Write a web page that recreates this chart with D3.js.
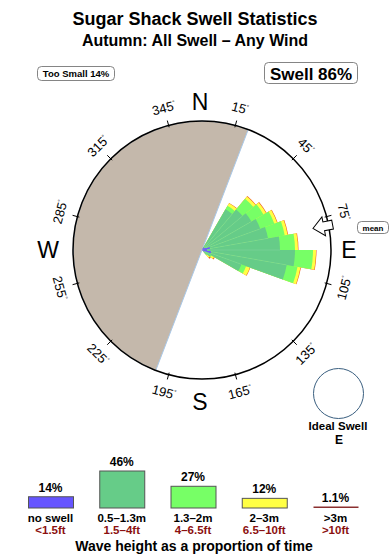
<!DOCTYPE html>
<html><head><meta charset="utf-8">
<script src="https://cdn.jsdelivr.net/npm/d3@7"></script>
<style>body{margin:0;background:#fff}svg{display:block}text{font-family:"Liberation Sans",Arial,sans-serif}</style>
</head><body><div id="c"></div>
<script>
// ---- data ----
const categories = ["no swell","0.5\u20131.3m","1.3\u20132m","2\u20133m",">3m"];
const ftLabels = ["<1.5ft","1.5\u20134ft","4\u20136.5ft","6.5\u201310ft",">10ft"];
const legendPct = [14,46,27,12,1.1];
const legendPctLabels = ["14%","46%","27%","12%","1.1%"];
const colors = ["#6655ff","#66cc88","#77ff66","#ffff44","#ee5522"];
const binStart = [30,40,50,60,70,80,90,100,110,120,130];
const binWidth = 10;
const noSwell = [3,3,3,4,8,5,5,9,3,2,1];
const small   = [44,50,54,58,59,73,88,77,39,8,5];
const medium  = [4,14,14,15,17,15,18,11,5,1,1];
const large   = [3,3,3,3,3,3,3,3,4,3,3];
const huge    = [0.4,0.5,0.5,0.5,0.5,0.5,0.5,0.5,0.5,0.8,1.5];
const degTicks = [15,45,75,105,135,165,195,225,255,285,315,345];
const compass = [["N",0],["E",90],["S",180],["W",270]];
const landFrom = 201, landTo = 381;
const meanDir = 79;
const swellPct = "Swell 86%", tooSmall = "Too Small 14%";

// ---- drawing ----
const W = 390, H = 560, cx = 202, cy = 250, R = 129;
const svg = d3.select("#c").append("svg").attr("width",W).attr("height",H);
const rad = d => d*Math.PI/180;
const r = d3.scaleLinear().domain([0,129]).range([0,R]);

svg.append("text").attr("x",195).attr("y",25).attr("text-anchor","middle")
  .attr("font-size",18).attr("font-weight","bold").text("Sugar Shack Swell Statistics");
svg.append("text").attr("x",195).attr("y",45.5).attr("text-anchor","middle")
  .attr("font-size",16).attr("font-weight","bold").text("Autumn: All Swell \u2013 Any Wind");

function box(x,y,w,h,txt,fs,tx,ty,fw){
  svg.append("rect").attr("x",x).attr("y",y).attr("width",w).attr("height",h).attr("rx",4)
    .attr("fill","#fff").attr("stroke","#666").attr("stroke-width",0.8);
  svg.append("text").attr("x",tx).attr("y",ty).attr("text-anchor","middle").attr("font-size",fs)
    .attr("font-weight",fw||"normal").text(txt);
}
box(37.5,66.5,77,14,tooSmall,9.5,76,77.2,"bold");
box(264.5,62.5,93,21,swellPct,17,311,79.5,"bold");
box(357.5,221.5,31,12,"mean",8,373,230.5,"bold");

const g = svg.append("g").attr("transform",`translate(${cx},${cy})`);
// land
g.append("path").attr("d",d3.arc()({innerRadius:0,outerRadius:R,startAngle:rad(landFrom),endAngle:rad(landTo)}))
  .attr("fill","#c4b8ab").attr("stroke","#a9c8e8").attr("stroke-width",1);

// rose
const rows = binStart.map((b,i)=>({b, "no swell":noSwell[i], [categories[1]]:small[i], [categories[2]]:medium[i], [categories[3]]:large[i], [categories[4]]:huge[i]}));
const stack = d3.stack().keys(categories)(rows);
const arc = d3.arc();
stack.slice().reverse().forEach((layer)=>{
  const ci = categories.indexOf(layer.key);
  g.append("g").selectAll("path").data(layer).join("path")
    .attr("d",d=>arc({innerRadius:0,outerRadius:r(d[1]),startAngle:rad(d.data.b),endAngle:rad(d.data.b+binWidth)}))
    .attr("fill",colors[ci]);
});
// faint seams
g.append("g").selectAll("line").data(binStart.slice(1)).join("line")
  .attr("x1",0).attr("y1",0)
  .attr("x2",(d,i)=>Math.sin(rad(d))*r(Math.min(noSwell[i]+small[i],noSwell[i+1]+small[i+1])))
  .attr("y2",(d,i)=>-Math.cos(rad(d))*r(Math.min(noSwell[i]+small[i],noSwell[i+1]+small[i+1])))
  .attr("stroke","#fff").attr("stroke-opacity",0.18).attr("stroke-width",0.6);
// blue no swell drawn on top near centre
g.append("g").selectAll("path").data(stack[0]).join("path")
  .attr("d",d=>arc({innerRadius:0,outerRadius:r(d[1]),startAngle:rad(d.data.b),endAngle:rad(d.data.b+binWidth)}))
  .attr("fill",colors[0]);

// circle
g.append("circle").attr("r",R).attr("fill","none").attr("stroke","#000").attr("stroke-width",1.5);
// ticks and labels
g.selectAll(".tk").data(degTicks).join("line")
  .attr("x1",d=>Math.sin(rad(d))*(R-2)).attr("y1",d=>-Math.cos(rad(d))*(R-2))
  .attr("x2",d=>Math.sin(rad(d))*(R+5)).attr("y2",d=>-Math.cos(rad(d))*(R+5))
  .attr("stroke","#000").attr("stroke-width",1);
const lab = g.selectAll(".dl").data(degTicks).join("text")
  .attr("transform",d=>{const x=Math.sin(rad(d))*147, y=-Math.cos(rad(d))*147;
     const rot=(d<=90||d>=270)?d:d-180; return `translate(${x},${y}) rotate(${rot})`;})
  .attr("text-anchor","middle").attr("dy","0.35em").attr("font-size",13);
lab.append("tspan").text(d=>d);
lab.append("tspan").attr("font-size",6).attr("dy","-0.9em").text("\u00b0");

// compass letters
const cpos = {N:[200,110],E:[349,258],S:[200,410],W:[48,258]};
svg.selectAll(".cp").data(compass).join("text")
  .attr("x",d=>cpos[d[0]][0]).attr("y",d=>cpos[d[0]][1]).attr("text-anchor","middle")
  .attr("font-size",23).text(d=>d[0]);

// mean arrow
g.append("path").attr("transform",`rotate(${meanDir})`)
  .attr("d","M0,-113 L-9.5,-124 L-4.5,-124 L-4.5,-133 L4.5,-133 L4.5,-124 L9.5,-124 Z")
  .attr("fill","#fff").attr("stroke","#000").attr("stroke-width",1).attr("stroke-linejoin","miter");

// ideal swell
svg.append("circle").attr("cx",338.5).attr("cy",393.5).attr("r",25).attr("fill","none").attr("stroke","#3a5f80").attr("stroke-width",1);
svg.append("text").attr("x",338).attr("y",430).attr("text-anchor","middle").attr("font-size",11.5).attr("font-weight","bold").text("Ideal Swell");
svg.append("text").attr("x",339).attr("y",443.5).attr("text-anchor","middle").attr("font-size",12).attr("font-weight","bold").text("E");

// legend
const lx = d3.scalePoint().domain(categories).range([50.5,335.5]);
const lh = d3.scaleLinear().domain([0,46]).range([0,37]);
const base = 508, bw = 45;
const lg = svg.append("g");
lg.selectAll("rect").data(categories).join("rect")
  .attr("x",d=>lx(d)-bw/2+0.5).attr("width",bw)
  .attr("y",(d,i)=>base-Math.max(lh(legendPct[i]),1.5)).attr("height",(d,i)=>Math.max(lh(legendPct[i]),1.5))
  .attr("fill",(d,i)=>i==4?"#8b3030":colors[i]).attr("stroke",(d,i)=>i==4?"none":"#555").attr("stroke-width",1);
lg.selectAll(".pc").data(categories).join("text")
  .attr("x",d=>lx(d)).attr("y",(d,i)=>base-Math.max(lh(legendPct[i]),1.5)-5)
  .attr("text-anchor","middle").attr("font-size",12).attr("font-weight","bold").text((d,i)=>legendPctLabels[i]);
lg.selectAll(".cl").data(categories).join("text")
  .attr("x",d=>lx(d)).attr("y",522).attr("text-anchor","middle").attr("font-size",11.5).attr("font-weight","bold").text(d=>d);
lg.selectAll(".fl").data(ftLabels).join("text")
  .attr("x",(d,i)=>lx(categories[i])).attr("y",534).attr("text-anchor","middle").attr("font-size",11.5)
  .attr("font-weight","bold").attr("fill","#8b1010").text(d=>d);
svg.append("text").attr("x",194).attr("y",551).attr("text-anchor","middle").attr("font-size",14)
  .attr("font-weight","bold").text("Wave height as a proportion of time");
</script></body></html>
